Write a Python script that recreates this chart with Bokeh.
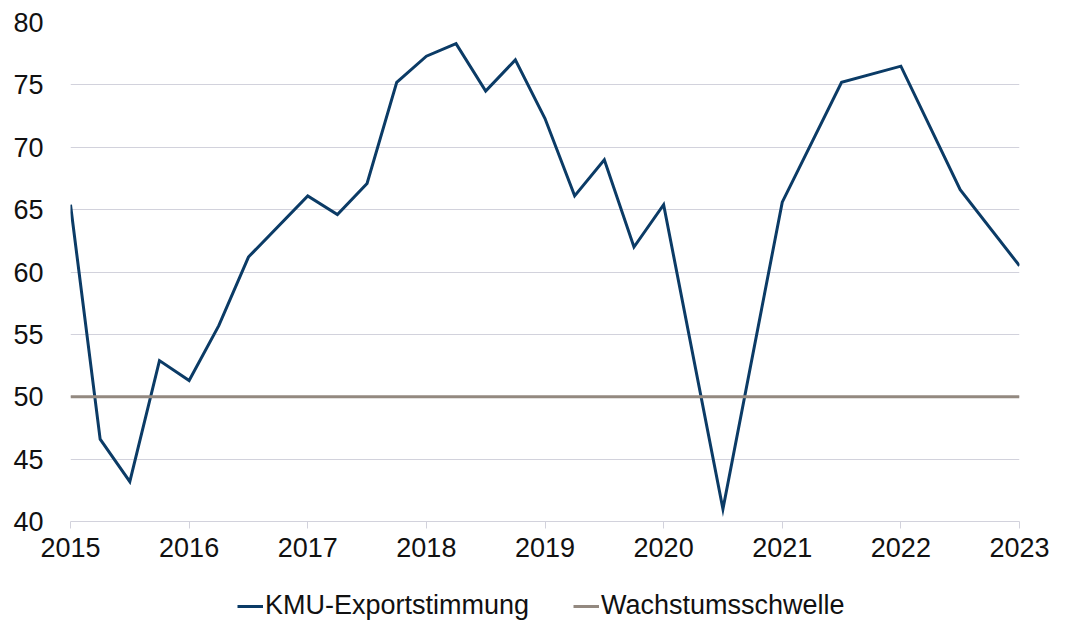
from bokeh.plotting import figure
from bokeh.models import Legend, LegendItem, FixedTicker, Range1d
from bokeh.layouts import column
from bokeh.embed import file_html
from bokeh.resources import INLINE

# Data (decimal years)
x_vals = [2015.0, 2015.25, 2015.5, 2015.75, 2016.0, 2016.25, 2016.5, 2017.0,
          2017.25, 2017.5, 2017.75, 2018.0, 2018.25, 2018.5, 2018.75, 2019.0,
          2019.25, 2019.5, 2019.75, 2020.0, 2020.5, 2021.0, 2021.5, 2022.0,
          2022.5, 2023.0]
export_mood = [65.4, 46.6, 43.2, 52.9, 51.3, 55.7, 61.2, 66.1,
               64.6, 67.1, 75.2, 77.3, 78.3, 74.5, 77.0, 72.3,
               66.1, 69.0, 62.0, 65.4, 41.0, 65.6, 75.2, 76.5,
               66.6, 60.5]
threshold_x = [2015.0, 2023.0]
threshold_y = [50, 50]
x_ticks = [2015, 2016, 2017, 2018, 2019, 2020, 2021, 2022, 2023]
y_ticks = [40, 45, 50, 55, 60, 65, 70, 75, 80]
series_names = ["KMU-Exportstimmung", "Wachstumsschwelle"]

FONT = "Liberation Sans"
NAVY = "#0b3b66"
TAUPE = "#938980"
GRID = "#d2d2dc"
FS = "27px"

p = figure(width=1065, height=567, output_backend="svg", toolbar_location=None,
           x_range=Range1d(2015, 2023), y_range=Range1d(40, 80),
           min_border_left=70, min_border_right=46, min_border_top=22,
           min_border_bottom=46)
p.outline_line_color = None
p.background_fill_color = "white"
p.border_fill_color = "white"

r1 = p.line(x_vals, export_mood, line_color=NAVY, line_width=3, line_join="miter")
r2 = p.line(threshold_x, threshold_y, line_color=TAUPE, line_width=3)

p.xgrid.grid_line_color = None
p.ygrid.grid_line_color = GRID
p.ygrid.grid_line_width = 1
p.ygrid.ticker = FixedTicker(ticks=y_ticks)

p.xaxis.ticker = FixedTicker(ticks=x_ticks)
p.xaxis.axis_line_color = GRID
p.xaxis.major_tick_line_color = GRID
p.xaxis.major_tick_out = 7
p.xaxis.major_tick_in = 0
p.xaxis.minor_tick_line_color = None
p.xaxis.major_label_standoff = 9
p.xaxis.major_label_text_font = FONT
p.xaxis.major_label_text_font_size = FS
p.xaxis.major_label_text_color = "#111111"

p.yaxis.ticker = FixedTicker(ticks=y_ticks)
p.yaxis.axis_line_color = None
p.yaxis.major_tick_line_color = None
p.yaxis.minor_tick_line_color = None
p.yaxis.major_tick_out = 0
p.yaxis.major_label_standoff = 27
p.yaxis.major_label_text_font = FONT
p.yaxis.major_label_text_font_size = FS
p.yaxis.major_label_text_color = "#111111"

# Legend strip below the chart (series drawn outside its visible range,
# only their legend entries show)
p2 = figure(width=1065, height=54, output_backend="svg", toolbar_location=None,
            x_axis_type=None, y_axis_type=None,
            x_range=Range1d(0, 1), y_range=Range1d(0, 1),
            min_border_left=0, min_border_right=0, min_border_top=0, min_border_bottom=0)
p2.outline_line_color = None
p2.xgrid.grid_line_color = None
p2.ygrid.grid_line_color = None
l1 = p2.line(x_vals, export_mood, line_color=NAVY, line_width=3)
l2 = p2.line(threshold_x, threshold_y, line_color=TAUPE, line_width=3)

legend = Legend(items=[LegendItem(label=series_names[0], renderers=[l1]),
                       LegendItem(label=series_names[1], renderers=[l2])],
                orientation="horizontal", location=(167, 0))
legend.label_text_font = FONT
legend.label_text_font_size = FS
legend.label_text_color = "#111111"
legend.glyph_width = 26
legend.label_standoff = 2
legend.spacing = 44
legend.border_line_color = None
legend.background_fill_alpha = 0
legend.margin = 0
legend.padding = 0
p2.add_layout(legend)

layout = column(p, p2, spacing=0)
open("out.html", "w").write(file_html(layout, INLINE))
